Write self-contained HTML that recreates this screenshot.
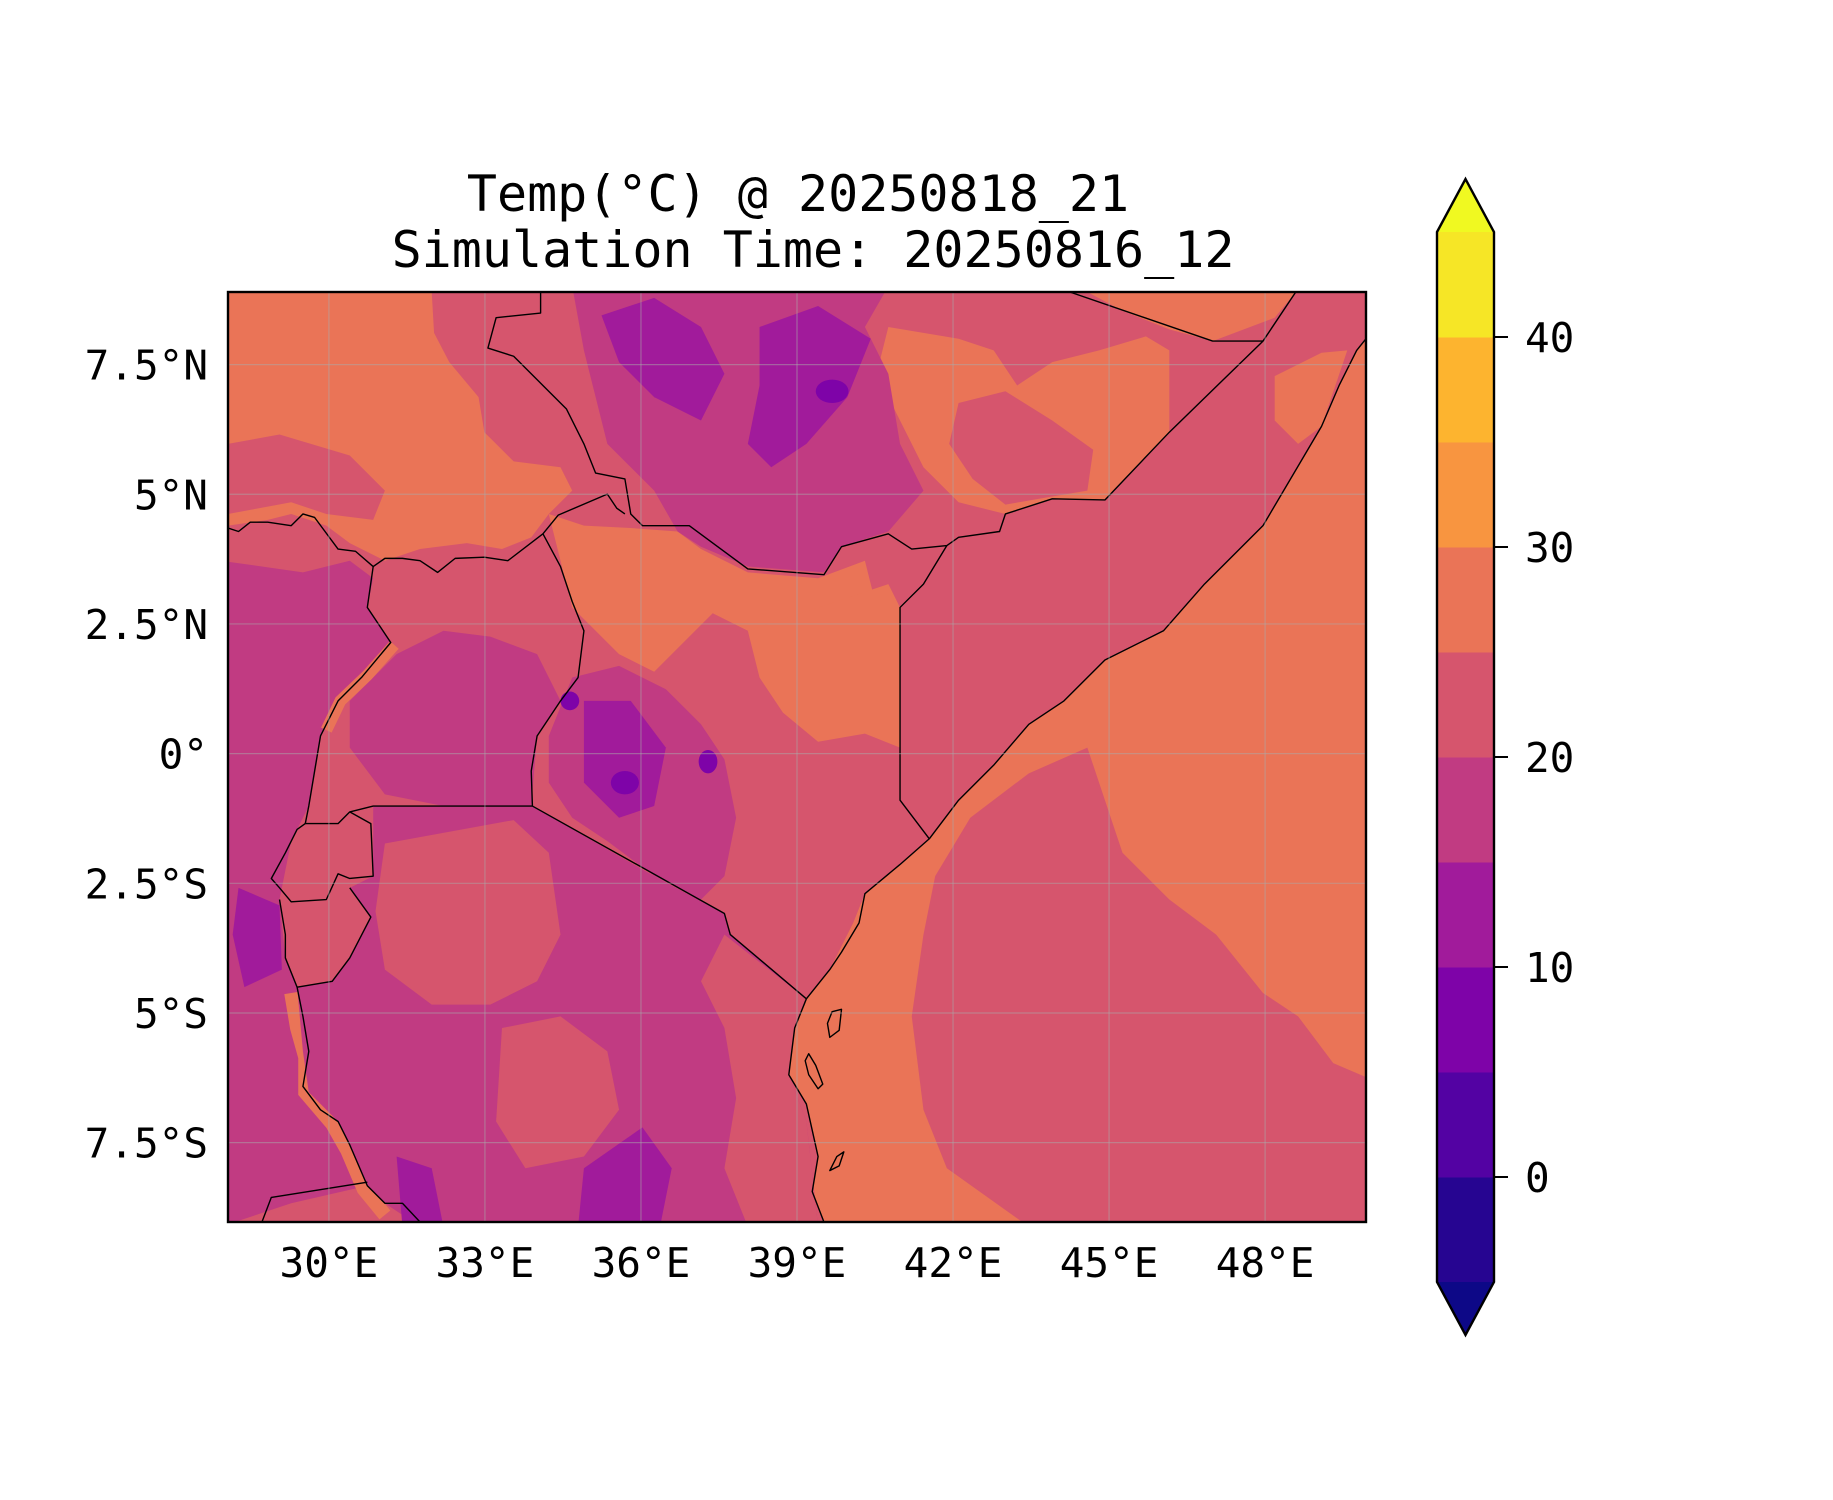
<!DOCTYPE html>
<html><head><meta charset="utf-8">
<style>
html,body{margin:0;padding:0;background:#fff;}
svg{display:block;}
text{font-family:"DejaVu Sans Mono","Liberation Mono",monospace;fill:#000;}
</style></head>
<body>
<svg id="fig" width="1833" height="1500" viewBox="0 0 1833 1500" xmlns="http://www.w3.org/2000/svg">
<rect x="0" y="0" width="1833" height="1500" fill="#fff"/>
<text x="798" y="211" font-size="50" text-anchor="middle">Temp(°C) @ 20250818_21</text>
<text x="813" y="267" font-size="50" text-anchor="middle">Simulation Time: 20250816_12</text>
<defs><clipPath id="mapclip"><rect x="228" y="292" width="1138" height="930"/></clipPath></defs>
<g clip-path="url(#mapclip)">
<g id="map" transform="translate(228,292) scale(1.1708,1.1683) translate(-196,-250)">
  <rect x="190" y="245" width="990" height="810" fill="#d6556d"/>
  <path fill="#ea7457" d="M196,250 L370,250 L372,285 L385,310 L410,340 L415,370 L440,395 L480,400 L490,420 L470,440 L455,460 L430,470 L400,465 L360,470 L330,480 L300,465 L280,450 L250,440 L230,445 L196,450 Z"/>
  <path fill="#d6556d" d="M196,380 L240,372 L300,390 L330,420 L320,445 L280,440 L250,430 L196,440 Z"/>
  <path fill="#ea7457" d="M470,440 L500,450 L540,452 L580,455 L600,470 L640,490 L700,495 L740,480 L750,520 L720,540 L680,530 L640,540 L610,525 L590,545 L560,575 L530,560 L510,540 L490,520 L480,480 Z"/>
  <path fill="#ea7457" d="M640,540 L700,520 L760,500 L770,520 L770,640 L740,628 L700,635 L670,610 L650,580 Z"/>
  <path fill="#ea7457" d="M760,280 L820,290 L850,300 L870,330 L900,310 L940,300 L980,288 L1000,300 L1000,370 L945,428 L900,427 L860,440 L820,430 L790,400 L770,360 L750,320 Z"/>
  <path fill="#d6556d" d="M820,345 L860,335 L900,360 L935,385 L930,420 L900,425 L860,432 L832,410 L812,380 Z"/>
  <path fill="#ea7457" d="M930,250 L1108,250 L1090,272 L1037,292 L1000,282 L960,266 Z"/>
  <path fill="#ea7457" d="M1090,322 L1130,302 L1152,300 L1130,365 L1110,380 L1090,360 Z"/>
  <path fill="#ea7457" d="M1168,290 L1160,300 L1145,330 L1130,365 L1080,450 L1030,500 L995,540 L945,565 L910,600 L880,620 L850,655 L820,685 L795,718 L770,740 L740,765 L730,790 L710,830 L690,855 L680,880 L675,920 L690,945 L700,990 L695,1020 L705,1046 L1175,1050 L1175,290 Z"/>
  <path fill="#d6556d" d="M930,640 L960,730 L1000,770 L1040,800 L1080,850 L1110,870 L1140,910 L1175,925 L1175,1050 L880,1050 L810,1000 L790,950 L780,870 L790,800 L800,750 L830,700 L880,662 Z"/>
  <path fill="#c13b82" d="M490,245 L760,245 L740,280 L760,320 L770,380 L790,420 L760,455 L720,468 L705,490 L640,485 L600,468 L580,455 L560,420 L540,400 L520,380 L510,340 L500,300 Z"/>
  <path fill="#a11b9b" d="M515,270 L560,255 L600,280 L620,320 L600,360 L560,340 L530,310 Z"/>
  <path fill="#a11b9b" d="M650,280 L700,262 L745,290 L725,340 L690,380 L660,400 L640,380 L650,330 Z"/>
  <ellipse cx="712" cy="335" rx="14" ry="10" fill="#7e03a8"/>
  <path fill="#c13b82" d="M190,480 L260,490 L300,480 L320,495 L315,520 L335,550 L310,580 L290,600 L275,630 L265,690 L250,720 L240,770 L245,820 L255,845 L260,900 L260,930 L290,960 L300,980 L315,1015 L250,1030 L190,1050 Z"/>
  <path fill="#a11b9b" d="M205,760 L240,775 L242,830 L210,845 L200,800 Z"/>
  <path fill="#c13b82" d="M340,560 L380,540 L420,545 L460,560 L480,600 L460,630 L455,690 L380,690 L330,680 L300,640 L300,600 Z"/>
  <path fill="none" stroke="#ea7457" stroke-width="10" d="M338,552 L315,578 L292,600 L280,625"/>
  <path fill="none" stroke="#ea7457" stroke-width="12" d="M250,850 L255,880 L262,905 L262,935 L285,962 L298,985 L312,1018 L330,1040"/>
  <path fill="#c13b82" d="M490,580 L530,570 L570,590 L600,620 L620,650 L630,700 L620,750 L600,770 L560,750 L520,720 L490,700 L470,670 L470,630 Z"/>
  <path fill="#a11b9b" d="M500,600 L540,600 L570,640 L560,690 L530,700 L500,670 Z"/>
  <ellipse cx="535" cy="670" rx="12" ry="10" fill="#7e03a8"/>
  <ellipse cx="606" cy="652" rx="8" ry="10" fill="#7e03a8"/>
  <ellipse cx="488" cy="600" rx="8" ry="8" fill="#7e03a8"/>
  <ellipse cx="607" cy="784" rx="9" ry="8" fill="#4e02a2"/>
  <path fill="#c13b82" d="M320,690 L456,690 L560,750 L620,782 L625,800 L660,830 L690,855 L680,880 L675,920 L690,960 L700,1050 L360,1050 L330,1030 L315,1015 L300,980 L290,960 L265,935 L260,900 L255,845 L285,840 L300,820 L318,785 L300,760 L320,750 Z"/>
  <path fill="#d6556d" d="M330,722 L440,702 L470,730 L480,800 L460,840 L420,860 L370,860 L330,830 L322,780 Z"/>
  <path fill="#d6556d" d="M620,800 L690,855 L680,880 L675,920 L690,960 L700,1050 L640,1050 L620,1000 L630,940 L620,880 L600,840 Z"/>
  <path fill="#d6556d" d="M430,880 L480,870 L520,900 L530,950 L500,990 L450,1000 L425,960 Z"/>
  <path fill="#a11b9b" d="M500,1000 L550,965 L575,1000 L565,1050 L495,1050 Z"/>
  <path fill="#a11b9b" d="M340,990 L370,1000 L380,1050 L345,1050 Z"/>
  <g fill="none" stroke="#000" stroke-width="1.4" stroke-linejoin="round">
    <path vector-effect="non-scaling-stroke" d="M196,452 L205,455 L215,447 L230,447 L250,450 L260,440 L270,443 L290,470 L305,472 L320,485 L330,478 L345,478 L360,480 L375,490 L390,478 L415,477 L435,480 L465,457 L478,441 L520,423 L528,435 L535,440"/>
    <path vector-effect="non-scaling-stroke" d="M463,250 L463,268 L425,272 L418,298 L440,305 L465,330 L485,350 L500,380 L510,405 L535,410 L540,440 L550,450 L590,450 L640,487 L705,492 L720,468 L760,457 L780,470 L810,467 L820,460 L855,455 L860,440 L900,427 L945,428 L1000,370 L1080,292 L1108,250"/>
    <path vector-effect="non-scaling-stroke" d="M915,250 L1037,292 L1080,292"/>
    <path vector-effect="non-scaling-stroke" d="M465,457 L480,485 L490,515 L500,540 L495,580 L480,600 L460,630 L455,660 L456,690"/>
    <path vector-effect="non-scaling-stroke" d="M320,485 L315,520 L335,550 L310,580 L290,600 L275,630 L265,690 L262,705"/>
    <path vector-effect="non-scaling-stroke" d="M456,690 L320,690 L300,695 L290,705 L280,705 L262,705"/>
    <path vector-effect="non-scaling-stroke" d="M300,695 L318,705 L320,750 L300,752 L290,748 L280,770 L250,772 L240,760 L233,752 L245,730 L255,710 L262,705"/>
    <path vector-effect="non-scaling-stroke" d="M300,760 L318,785 L300,820 L285,840 L255,845 L245,820 L245,800 L240,770"/>
    <path vector-effect="non-scaling-stroke" d="M255,845 L260,870 L265,900 L260,930 L275,950 L290,960 L300,980 L315,1015 L330,1030 L345,1030 L360,1046"/>
    <path vector-effect="non-scaling-stroke" d="M225,1046 L233,1025 L315,1012"/>
    <path vector-effect="non-scaling-stroke" d="M456,690 L620,782 L625,800 L690,855"/>
    <path vector-effect="non-scaling-stroke" d="M810,467 L790,500 L770,520 L770,685 L795,718"/>
    <path vector-effect="non-scaling-stroke" d="M1168,290 L1160,300 L1145,330 L1130,365 L1080,450 L1030,500 L995,540 L945,565 L910,600 L880,620 L850,655 L820,685 L795,718 L770,740 L740,765 L735,790 L720,815 L710,830 L690,855 L680,880 L675,920 L690,945 L700,990 L695,1020 L705,1046"/>
    <path vector-effect="non-scaling-stroke" d="M712,866 L720,864 L718,882 L710,888 L708,876 Z"/>
    <path vector-effect="non-scaling-stroke" d="M692,902 L698,912 L704,928 L700,932 L692,920 L689,908 Z"/>
    <path vector-effect="non-scaling-stroke" d="M716,990 L722,986 L718,998 L710,1002 Z"/>
  </g>
</g>
<g id="grid"></g>
</g>
<rect x="228" y="292" width="1138" height="930" fill="none" stroke="#000" stroke-width="2.4"/>
<g id="xticks"></g>
<g id="yticks"></g>
<g id="cbar"></g>
</svg>
<script>
const lonTicks = [30, 33, 36, 39, 42, 45, 48];
const lonLabels = ["30°E","33°E","36°E","39°E","42°E","45°E","48°E"];
const latTicks = [7.5, 5, 2.5, 0, -2.5, -5, -7.5];
const latLabels = ["7.5°N","5°N","2.5°N","0°","2.5°S","5°S","7.5°S"];
const cbarLevels = [-5, 0, 5, 10, 15, 20, 25, 30, 35, 40, 45];
const cbarColors = ["#260591","#5302a3","#7e03a8","#a11b9b","#c13b82","#d6556d","#ea7457","#f89540","#fdb42f","#f6e626"];
const cbarTicks = [0, 10, 20, 30, 40];
const cbarTickLabels = ["0","10","20","30","40"];
const NS = "http://www.w3.org/2000/svg";
const lonMin = 28.06, lonMax = 49.94, latMin = -9.03, latMax = 8.9;
const fx = 228, fy = 292, fw = 1138, fh = 930;
function xLon(l){ return fx + (l - lonMin) / (lonMax - lonMin) * fw; }
function yLat(l){ return fy + (latMax - l) / (latMax - latMin) * fh; }
const cbX = 1437, cbW = 57, cbTop = 232, cbBot = 1282, tipH = 53;
function yC(v){ return cbBot - (v - cbarLevels[0]) / (cbarLevels[cbarLevels.length-1] - cbarLevels[0]) * (cbBot - cbTop); }
function mk(tag, attrs, parent){ const e = document.createElementNS(NS, tag); for (const k in attrs) e.setAttribute(k, attrs[k]); parent.appendChild(e); return e; }
const grid = document.getElementById('grid');
lonTicks.forEach(function(l){
  const ln = mk('line', {x1:xLon(l), x2:xLon(l), y1:fy, y2:fy+fh, stroke:'#aaaaaa', 'stroke-opacity':'0.5', 'stroke-width':'1.2'}, grid);
  
  
});
latTicks.forEach(function(l){
  const ln = mk('line', {x1:fx, x2:fx+fw, y1:yLat(l), y2:yLat(l), stroke:'#aaaaaa', 'stroke-opacity':'0.5', 'stroke-width':'1.2'}, grid);
  
  
});
const xt = document.getElementById('xticks');
lonTicks.forEach(function(l, i){
  const t = mk('text', {x:xLon(l), y:1277, 'font-size':'41', 'text-anchor':'middle'}, xt);
  t.textContent = lonLabels[i];
  
  
});
const yt = document.getElementById('yticks');
latTicks.forEach(function(l, i){
  const t = mk('text', {x:208, y:yLat(l)+15, 'font-size':'41', 'text-anchor':'end'}, yt);
  t.textContent = latLabels[i];
  
  
});
const cb = document.getElementById('cbar');
cbarColors.forEach(function(c, i){
  const y1 = yC(cbarLevels[i+1]), y0 = yC(cbarLevels[i]);
  const r = mk('rect', {x:cbX, y:y1, width:cbW, height:(y0-y1)+0.5, fill:c}, cb);
  
  
});
const tipTop = mk('polygon', {points: cbX+','+cbTop+' '+(cbX+cbW/2)+','+(cbTop-tipH)+' '+(cbX+cbW)+','+cbTop, fill:'#f0f921'}, cb);


const tipBot = mk('polygon', {points: cbX+','+cbBot+' '+(cbX+cbW/2)+','+(cbBot+tipH)+' '+(cbX+cbW)+','+cbBot, fill:'#0d0887'}, cb);


const outline = mk('polygon', {points: cbX+','+cbTop+' '+(cbX+cbW/2)+','+(cbTop-tipH)+' '+(cbX+cbW)+','+cbTop+' '+(cbX+cbW)+','+cbBot+' '+(cbX+cbW/2)+','+(cbBot+tipH)+' '+cbX+','+cbBot, fill:'none', stroke:'#000', 'stroke-width':'2.4'}, cb);


cbarTicks.forEach(function(v, i){
  const y = yC(v);
  const ln = mk('line', {x1:cbX+cbW, x2:cbX+cbW+14, y1:y, y2:y, stroke:'#000', 'stroke-width':'2'}, cb);
  
  
  const t = mk('text', {x:1525, y:y+15, 'font-size':'41'}, cb);
  t.textContent = cbarTickLabels[i];
  
  
});
</script>
</body></html>
